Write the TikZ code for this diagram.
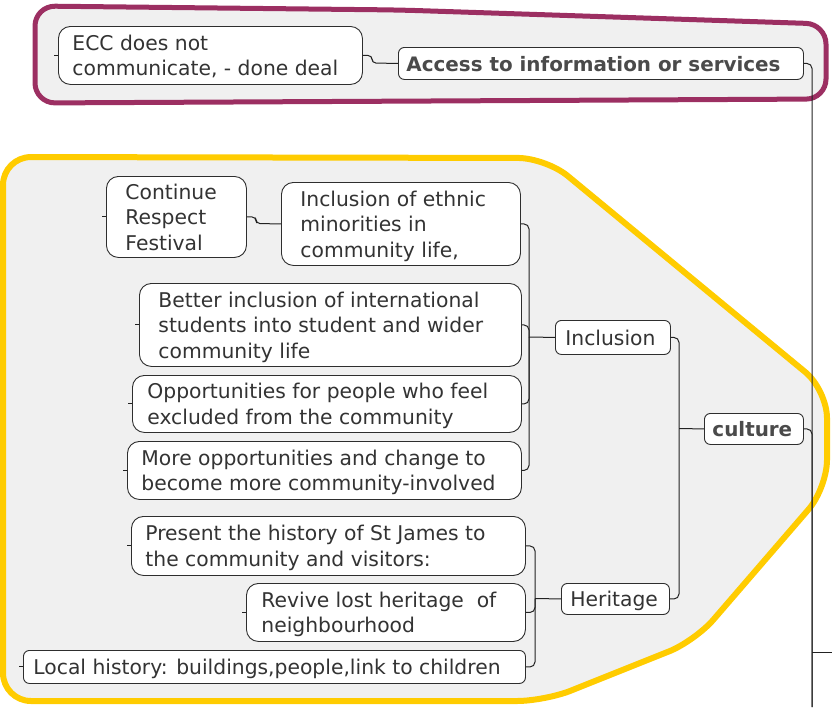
\documentclass[tikz,border=0pt]{standalone}
\usepackage{fontspec}
\setmainfont{DejaVu Sans}
\usetikzlibrary{calc}
\definecolor{txt}{HTML}{333333}
\definecolor{boldtxt}{HTML}{4A4A4A}
\definecolor{bord}{HTML}{2E2E2E}
\definecolor{linec}{HTML}{222222}
\definecolor{area}{HTML}{F0F0F0}
\definecolor{purp}{HTML}{9C2F62}
\definecolor{yell}{HTML}{FFCC00}
\newcommand\boxtext[3]{\makebox[#1][l]{\hspace*{#2}\raisebox{-2.5pt}[\height][\depth]{\begin{tabular}{@{}l@{}}#3\end{tabular}}}}
\begin{document}
\begin{tikzpicture}[x=1pt,y=-1pt,
  topic/.style={draw=bord, fill=white, line width=0.9pt, text=txt,
    font=\fontsize{20.3}{25.5}\selectfont, inner xsep=0pt, inner ysep=0pt,
    anchor=north west, rounded corners=12pt},
  smalltopic/.style={topic, rounded corners=6pt},
  link/.style={draw=linec, line width=1pt, rounded corners=5pt},
  stub/.style={draw=linec, line width=1pt},
  areapurp/.style={draw=purp, fill=area, line width=5pt, rounded corners=20pt},
  areayell/.style={draw=yell, fill=area, line width=6pt, rounded corners=28pt}]
\useasboundingbox (0,0) rectangle (832,707);

% boundary areas
\draw[areapurp] (35,50) -- (35,6) -- (400,10) -- (826,24) -- (826,99) -- (35,103) -- cycle;
\draw[areayell] (3,400) -- (3,157) -- (546,158) -- (827,390) -- (827,488) -- (695,641) -- (545,701) -- (3,701) -- cycle;

% topics
\node[topic, minimum width=304pt, minimum height=58pt] (ecc) at (58,26)
  {\boxtext{304pt}{14pt}{ECC does not\\communicate, - done deal}};
\node[smalltopic, minimum width=405pt, minimum height=32pt] (access) at (398,47)
  {\boxtext{405pt}{8pt}{\color{boldtxt}\fontsize{19.9}{25.5}\selectfont\bfseries Access to information or services}};
\node[topic, minimum width=140pt, minimum height=81pt] (festival) at (106,176)
  {\boxtext{140pt}{19pt}{Continue\\Respect\\Festival}};
\node[topic, minimum width=239pt, minimum height=83pt] (ethnic) at (281,182)
  {\boxtext{239pt}{19pt}{Inclusion of ethnic\\minorities in\\community life,}};
\node[topic, minimum width=382pt, minimum height=83pt] (intl) at (139,283)
  {\boxtext{382pt}{19pt}{Better inclusion of international\\students into student and wider\\community life}};
\node[topic, minimum width=389pt, minimum height=57pt] (excluded) at (132,375)
  {\boxtext{389pt}{15pt}{Opportunities for people who feel\\excluded from the community}};
\node[topic, minimum width=394pt, minimum height=58pt] (involved) at (127,441)
  {\boxtext{394pt}{14pt}{More opportunities and change to\\become more community-involved}};
\node[smalltopic, minimum width=115pt, minimum height=34pt] (inclusion) at (555,320)
  {\boxtext{115pt}{10pt}{Inclusion}};
\node[smalltopic, minimum width=99pt, minimum height=31pt] (culture) at (704,413)
  {\boxtext{99pt}{8pt}{\color{boldtxt}\fontsize{19.9}{25.5}\selectfont\bfseries culture}};
\node[topic, minimum width=394pt, minimum height=59pt] (history) at (131,516)
  {\boxtext{394pt}{14pt}{Present the history of St James to\\the community and visitors:}};
\node[topic, minimum width=279pt, minimum height=58pt] (revive) at (246,583)
  {\boxtext{279pt}{15pt}{Revive lost heritage\ \ of\\neighbourhood}};
\node[smalltopic, minimum width=502pt, minimum height=33pt] (local) at (23,650)
  {\boxtext{502pt}{10pt}{Local history: buildings,people,link to children}};
\node[smalltopic, minimum width=108pt, minimum height=31pt] (heritage) at (561,583)
  {\boxtext{108pt}{9pt}{Heritage}};

% junction coordinates
\coordinate (jecc) at (372,63);
\coordinate (jfest) at (256,223.5);
\coordinate (jinc) at (529,337);
\coordinate (jher) at (535,598.5);
\coordinate (jcul) at (679,428.5);
\coordinate (trunkbottom) at (812,707);
\coordinate (rootjoin) at (812,652);
\coordinate (rootedge) at (832,652);

% connectors
\draw[link, rounded corners=4pt] (ecc.east) -| (jecc) -- (access.west);
\draw[link, rounded corners=4pt] (festival.east) -| (jfest) -- (ethnic.west);
\foreach \c in {ethnic,intl,excluded,involved}
  \draw[link] (\c.east) -| (jinc);
\draw[link] (jinc) -- (inclusion.west);
\foreach \c in {history,revive,local}
  \draw[link] (\c.east) -| (jher);
\draw[link] (jher) -- (heritage.west);
\draw[link] (inclusion.east) -| (jcul);
\draw[link] (heritage.east) -| (jcul);
\draw[link] (jcul) -- (culture.west);
\draw[link] (access.east) -| (trunkbottom);
\draw[link] (culture.east) -| (trunkbottom);
\draw[link] (rootjoin) -- (rootedge);

% collapsed-branch stubs
\foreach \c in {ecc,festival,intl,excluded,involved,history,revive,local}
  \draw[stub] (\c.west) -- ++(-4,0);
\end{tikzpicture}
\end{document}
